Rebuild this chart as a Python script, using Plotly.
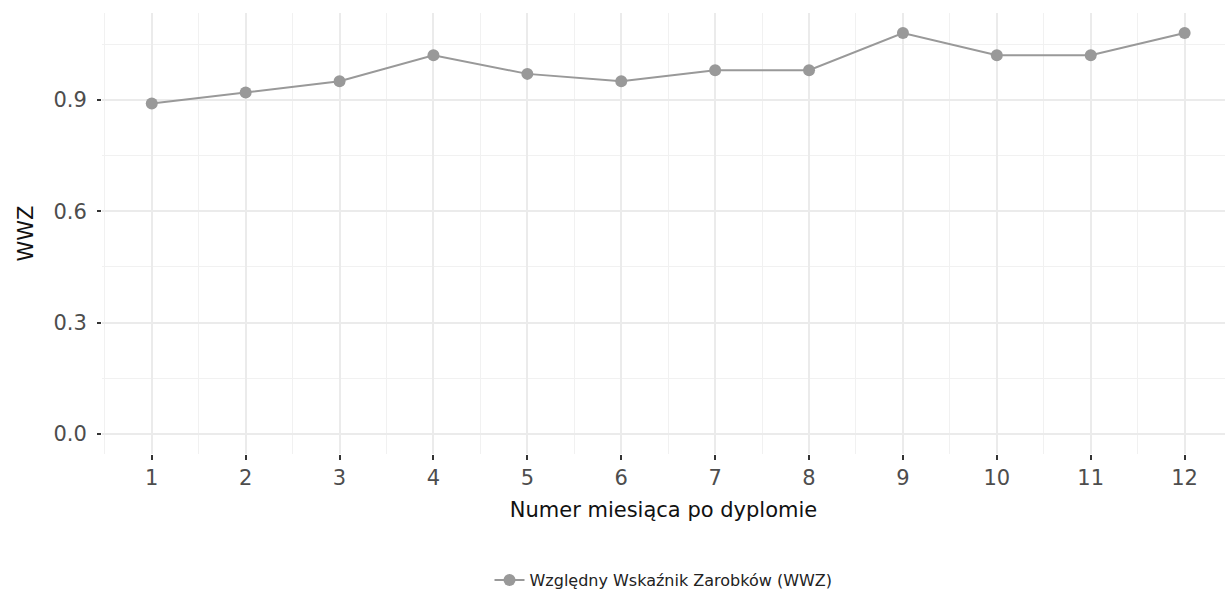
import plotly.graph_objects as go

months = [1, 2, 3, 4, 5, 6, 7, 8, 9, 10, 11, 12]
wwz = [0.89, 0.92, 0.95, 1.02, 0.97, 0.95, 0.98, 0.98, 1.08, 1.02, 1.02, 1.08]
y_ticks = [0.0, 0.3, 0.6, 0.9]
series_name = "Względny Wskaźnik Zarobków (WWZ)"

FONT = "DejaVu Sans"

fig = go.Figure()
fig.add_trace(go.Scatter(
    x=months, y=wwz, mode="lines+markers", name=series_name,
    line=dict(color="#999999", width=2),
    marker=dict(color="#999999", size=12),
))

fig.update_layout(
    width=1225, height=597,
    margin=dict(l=102, r=0, t=13, b=142),
    paper_bgcolor="white", plot_bgcolor="white",
    font=dict(family=FONT, color="#4D4D4D"),
    showlegend=True,
    legend=dict(orientation="h", x=0.5, xanchor="center", y=-0.285, yanchor="middle",
                font=dict(size=16, color="#222222")),
    xaxis=dict(
        range=[0.47, 12.43], tickvals=months, ticktext=[str(m) for m in months],
        showgrid=True, gridcolor="#EBEBEB", gridwidth=1.5,
        minor=dict(tickvals=[m + 0.5 for m in months[:-1]] + [0.5], showgrid=True,
                   gridcolor="#F1F1F1", gridwidth=1, ticks=""),
        ticks="outside", ticklen=5, tickcolor="#333333", tickwidth=1.5,
        ticklabelstandoff=0,
        tickfont=dict(size=21, color="#4D4D4D"),
        zeroline=False, showline=False, automargin=False,
        title=dict(text="Numer miesiąca po dyplomie", font=dict(size=21, color="#111111"), standoff=13),
    ),
    yaxis=dict(
        range=[-0.054, 1.134], tickvals=y_ticks, ticktext=[f"{v:.1f}" for v in y_ticks],
        showgrid=True, gridcolor="#EBEBEB", gridwidth=1.5,
        minor=dict(tickvals=[0.15, 0.45, 0.75, 1.05], showgrid=True,
                   gridcolor="#F1F1F1", gridwidth=1, ticks=""),
        ticks="outside", ticklen=4, tickcolor="#333333", tickwidth=1.5,
        ticklabelstandoff=6,
        tickfont=dict(size=21, color="#4D4D4D"),
        zeroline=False, showline=False, automargin=False,
        title=dict(text="WWZ", font=dict(size=21, color="#111111"), standoff=14),
    ),
)

fig.write_html("out.html", config={"displayModeBar": False},
               post_script="document.body.style.margin='0px';document.body.style.overflow='hidden';")
